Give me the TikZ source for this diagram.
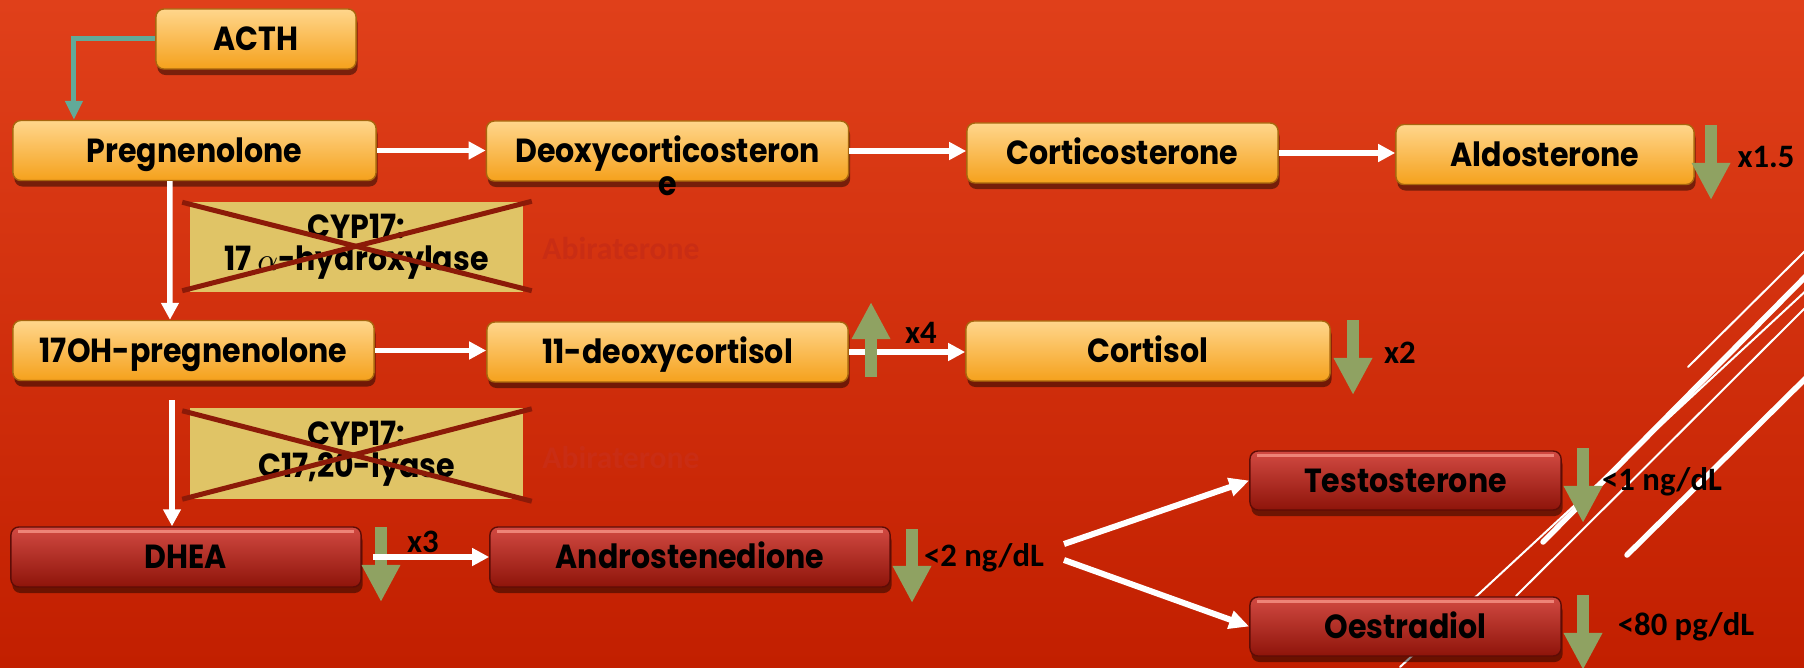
\documentclass[tikz,border=0pt]{standalone}
\usepackage{fontspec}
\usetikzlibrary{arrows.meta,shadows,calc}
\newfontfamily\bxfont{Poppins}[FakeStretch=0.9]
\newfontfamily\lbfont{Carlito}
\definecolor{bgtop}{HTML}{E0401A}
\definecolor{bgbot}{HTML}{C21F00}
\definecolor{orT}{HTML}{FFD68C}
\definecolor{orB}{HTML}{F5A11C}
\definecolor{orD}{HTML}{A8660E}
\definecolor{rdT}{HTML}{D24A42}
\definecolor{rdB}{HTML}{8E140A}
\definecolor{rdD}{HTML}{5E0C06}
\definecolor{rdH}{HTML}{EE8478}
\definecolor{cypY}{HTML}{E0C466}
\definecolor{xred}{HTML}{8C1A08}
\definecolor{arrG}{HTML}{8FA262}
\definecolor{tealc}{HTML}{62AA98}
\definecolor{abic}{HTML}{C92D14}
\tikzset{
  obox/.style={rounded corners=0.08cm, draw=orD, line width=0.4pt,
    top color=orT, bottom color=orB, minimum height=0.6cm, inner sep=0pt,
    text height=7.6pt, text depth=1pt,
    font=\bxfont\bfseries\fontsize{9.5}{11}\selectfont,
    drop shadow={shadow xshift=0.015cm, shadow yshift=-0.06cm, opacity=0.45, fill=black}},
  rbox/.style={obox, draw=rdD, top color=rdT, bottom color=rdB,
    path picture={\draw[rdH, line width=0.7pt]
      ([xshift=0.07cm,yshift=-0.045cm]path picture bounding box.north west) --
      ([xshift=-0.07cm,yshift=-0.045cm]path picture bounding box.north east);}},
  btext/.style={inner sep=0pt, font=\bxfont\bfseries\fontsize{9.5}{11}\selectfont},
  cyp/.style={fill=cypY, minimum width=3.33cm, minimum height=0.9cm, inner sep=0pt,
    align=center, font=\bxfont\bfseries\fontsize{9.5}{9}\selectfont},
  xline/.style={draw=xred, line width=0.05cm},
  abi/.style={inner sep=0pt, text=abic, font=\lbfont\bfseries\fontsize{9}{11}\selectfont},
  lab/.style={inner sep=0pt, font=\lbfont\bfseries\fontsize{9.3}{11}\selectfont},
  garrow/.style={draw=arrG, line width=0.115cm, -{Triangle[length=0.37cm,width=0.36cm]}},
  warrow/.style={draw=white, line width=0.055cm, -{Triangle[length=0.17cm,width=0.17cm]}},
  warrowb/.style={draw=white, line width=0.06cm, -{Triangle[length=0.2cm,width=0.18cm]}},
  tarrow/.style={draw=tealc, line width=0.05cm, -{Triangle[length=0.19cm,width=0.17cm]}},
  decothin/.style={draw=white, line width=0.02cm, line cap=round},
  decothick/.style={draw=white, line width=0.055cm, line cap=round}
}
\begin{document}
\begin{tikzpicture}[x=0.01cm,y=-0.01cm]
\useasboundingbox (0,0) rectangle (1804,667);
\fill[top color=bgtop, bottom color=bgbot] (0,0) rectangle (1804,667);

% decorative diagonal lines
\draw[decothin] (1688,367) -- (1810,246);
\draw[decothick] (1543,542) -- (1810,272);
\draw[decothin] (1400,667) -- (1810,287);
\draw[decothin] (1516,596) -- (1810,303);
\draw[decothick] (1627,555) -- (1810,374);

% nodes
\node[obox, minimum width=2cm] (acth) at (256,39) {ACTH};
\node[obox, minimum width=3.63cm] (preg) at (194.5,150.5) {Pregnenolone};
\node[obox, minimum width=3.62cm] (deoxy) at (667.5,151) {Deoxycorticosteron};
\node[btext] (deoxye) at (668,186) {e};
\node[obox, minimum width=3.11cm] (cortico) at (1122.5,153) {Corticosterone};
\node[obox, minimum width=2.98cm] (aldo) at (1545,154.5) {Aldosterone};
\node[obox, minimum width=3.61cm] (oh17) at (193.5,350.5) {17OH-pregnenolone};
\node[obox, minimum width=3.61cm] (deoxcort) at (667.5,352) {11-deoxycortisol};
\node[obox, minimum width=3.64cm] (cortisol) at (1148,351) {Cortisol};
\node[rbox, minimum width=3.5cm] (dhea) at (186,557) {DHEA};
\node[rbox, minimum width=4cm] (andro) at (690,557) {Androstenedione};
\node[rbox, minimum width=3.11cm, minimum height=0.59cm] (testo) at (1405.5,480.5) {Testosterone};
\node[rbox, minimum width=3.11cm, minimum height=0.59cm] (oestr) at (1405.5,626.5) {Oestradiol};

% enzyme boxes
\node[cyp] (cyp1) at (356.5,247) {CYP17:\\17\,$\alpha$-hydroxylase};
\node[cyp] (cyp2) at (356.5,453.5) {CYP17:\\C17,20-lyase};
\draw[xline] ($(cyp1.north west)+(-7,1)$) -- ($(cyp1.south east)+(8,-2)$);
\draw[xline] ($(cyp1.south west)+(-7,-2)$) -- ($(cyp1.north east)+(8,0)$);
\draw[xline] ($(cyp2.north west)+(-7,3)$) -- ($(cyp2.south east)+(8,2)$);
\draw[xline] ($(cyp2.south west)+(-7,0)$) -- ($(cyp2.north east)+(8,1)$);
\node[abi] (abi1) at (621,249) {Abiraterone};
\node[abi] (abi2) at (621,458) {Abiraterone};

% connectors
\draw[tarrow] (acth.west) -| ([xshift=-1.205cm]preg.north);
\draw[warrow] (preg.east) -- (preg.east -| deoxy.west);
\draw[warrow] (deoxy.east) -- (deoxy.east -| cortico.west);
\draw[warrow] (cortico.east) -- (cortico.east -| aldo.west);
\draw[warrow] ([xshift=-0.245cm]preg.south) -- ([xshift=-0.235cm]oh17.north);
\coordinate (v2) at (172,400);
\draw[warrow] (v2) -- (v2 |- dhea.north);
\draw[warrow] (oh17.east) -- (oh17.east -| deoxcort.west);
\draw[warrow] (deoxcort.east) -- (deoxcort.east -| cortisol.west);

% green indicator arrows
\draw[garrow] (1711,125) -- (1711,200);
\draw[garrow] (871,377) -- (871,302);
\draw[garrow] (1353,320) -- (1353,395);
\draw[garrow] (381,527) -- (381,602);
\draw[garrow] (912,529) -- (912,603);
\draw[garrow] (1583,448) -- (1583,523);
\draw[garrow] (1583,595) -- (1583,670);

\coordinate (dstart) at (373,557);
\draw[warrow] (dstart) -- (dstart -| andro.west);
\coordinate (s1) at (1064,544);
\coordinate (s2) at (1064,560);
\draw[warrowb] (s1) -- (testo.west);
\draw[warrowb] (s2) -- (oestr.west);

% labels
\node[lab] (l1) at (1766,157) {x1.5};
\node[lab] (l2) at (921,333) {x4};
\node[lab] (l3) at (1400,353) {x2};
\node[lab] (l4) at (423,542) {x3};
\node[lab] (l5) at (984,558) {<2 ng/dL};
\node[lab] (l6) at (1662,482) {<1 ng/dL};
\node[lab] (l7) at (1686,627) {<80 pg/dL};
\end{tikzpicture}
\end{document}
